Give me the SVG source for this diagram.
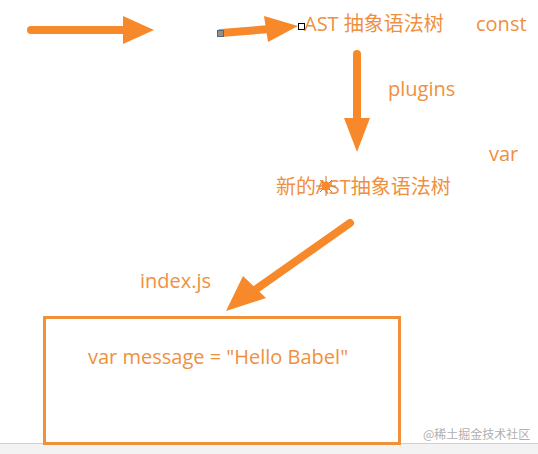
<svg xmlns="http://www.w3.org/2000/svg" width="538" height="454" viewBox="0 0 538 454">
<style>
.t{font-family:"Open Sans","Noto Sans CJK SC",sans-serif;font-size:20px;fill:#ef9040}
.a{stroke:#f7892a;stroke-width:8;stroke-linecap:round;fill:none}
.h{fill:#f7892a}
</style>
<rect x="0" y="0" width="538" height="454" fill="#ffffff"/>
<rect x="0" y="444" width="538" height="10" fill="#f3f3f3"/>
<line x1="0" y1="443.5" x2="538" y2="443.5" stroke="#cfcfcf" stroke-width="1"/>
<g id="connectors">
  <line class="a" x1="31" y1="30" x2="128" y2="30"/>
  <polygon class="h" points="123,16 154,30 123,44"/>
  <line class="a" x1="221" y1="33" x2="270" y2="29"/>
  <polygon class="h" points="264,16 298,26 268,42"/>
  <line class="a" x1="357" y1="54" x2="357" y2="122"/>
  <polygon class="h" points="344,118 370,118 357,152"/>
  <line class="a" x1="350" y1="223" x2="255" y2="290"/>
  <polygon class="h" points="243,276 266,298 226,311"/>
</g>
<g id="handles">
  <rect x="217.5" y="30.5" width="6" height="6" fill="#9a8f82" stroke="#4a6a8a" stroke-width="1"/>
  <rect x="298.5" y="23.5" width="6" height="6" fill="#ffffff" stroke="#000000" stroke-width="1"/>
</g>
<g id="ast">
  <text class="t" x="304" y="31">AST 抽象语法树</text>
</g>
<g id="const"><text class="t" x="476" y="31">const</text></g>
<g id="plugins"><text class="t" x="388" y="96">plugins</text></g>
<g id="var"><text class="t" x="489" y="161">var</text></g>
<g id="newast">
  <text class="t" x="276" y="194">新的AST抽象语法树</text>
  <g transform="translate(326,186)" stroke="#c07a40" stroke-width="1">
    <line x1="0" y1="-10" x2="0" y2="10"/>
    <line x1="-10" y1="0" x2="10" y2="0"/>
    <line x1="-6" y1="-6" x2="6" y2="6"/>
    <line x1="-6" y1="6" x2="6" y2="-6"/>
    <circle r="4.5" fill="#f7892a" stroke="none"/>
  </g>
</g>
<g id="indexjs"><text class="t" x="140" y="288">index.js</text></g>
<g id="box">
  <rect x="44.5" y="317.5" width="355" height="126" fill="none" stroke="#f0913a" stroke-width="3"/>
  <text class="t" x="88" y="364">var message =  "Hello Babel"</text>
</g>
<g id="watermark"><text x="423" y="439" font-family="'Noto Sans CJK SC',sans-serif" font-size="12" fill="#b0b0b0">@稀土掘金技术社区</text></g>
</svg>
